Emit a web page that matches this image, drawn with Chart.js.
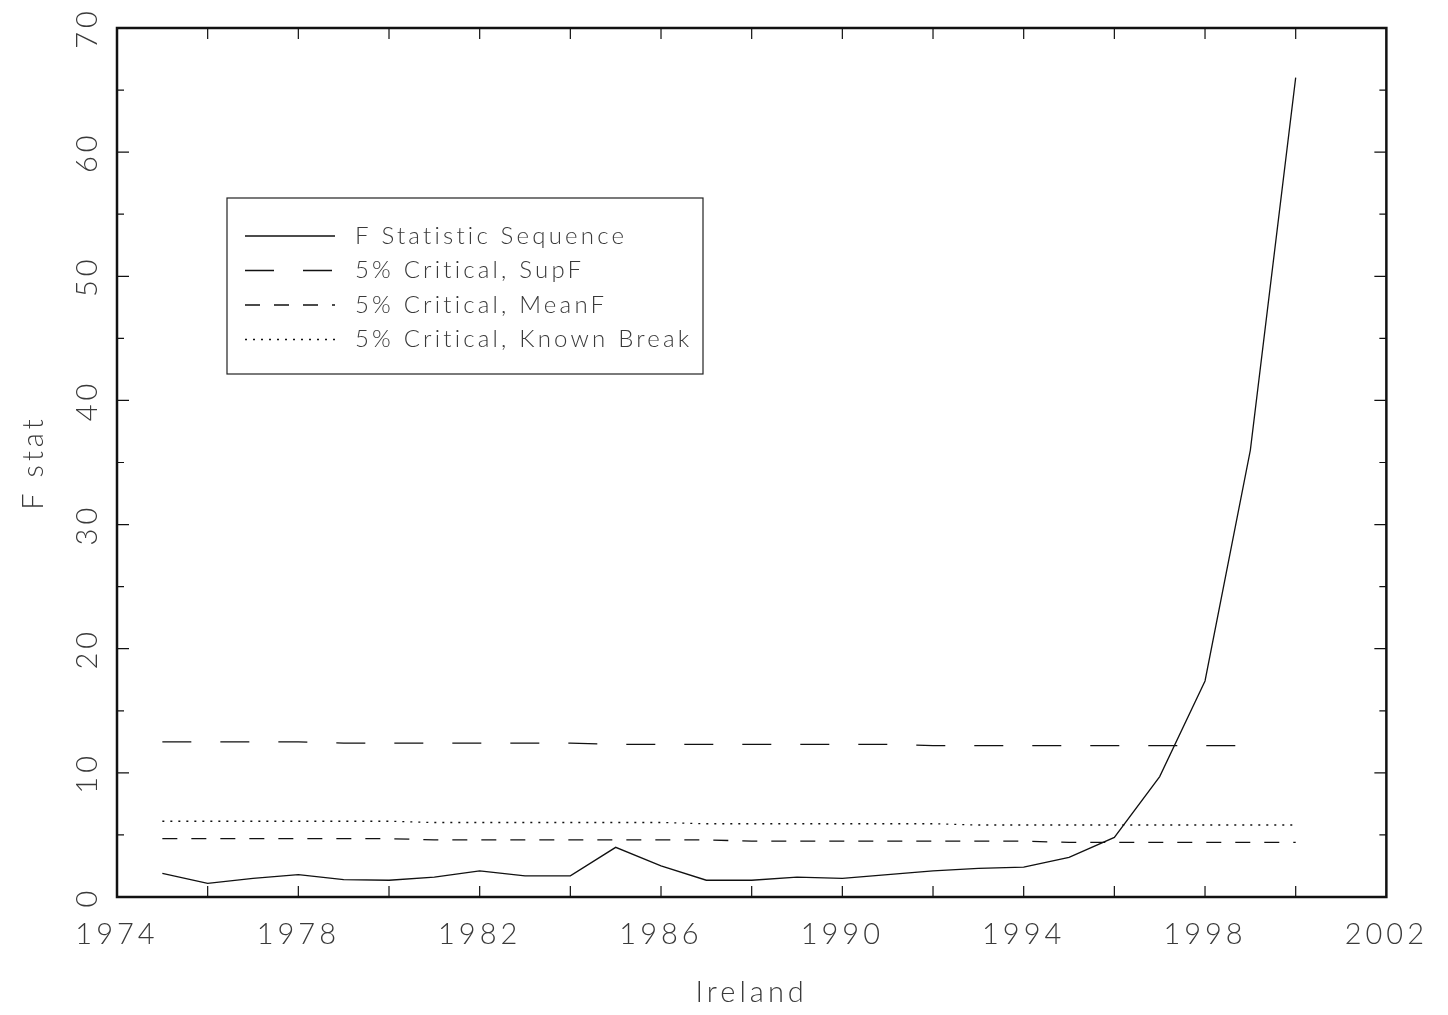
<!DOCTYPE html>
<html>
<head>
<meta charset="utf-8">
<script src="https://cdn.jsdelivr.net/npm/chart.js@4.4.1/dist/chart.umd.min.js"></script>
<style>
  html, body { margin: 0; padding: 0; background: #fff; }
  #chart { display: block; }
</style>
</head>
<body>
<canvas id="chart" width="1448" height="1015"></canvas>
<script>
// years on the x axis
var fYears = [1975, 1976, 1977, 1978, 1979, 1980, 1981, 1982, 1983, 1984, 1985, 1986, 1987,
              1988, 1989, 1990, 1991, 1992, 1993, 1994, 1995, 1996, 1997, 1998, 1999, 2000];
var supYears = [1975, 1976, 1977, 1978, 1979, 1980, 1981, 1982, 1983, 1984, 1985, 1986, 1987,
                1988, 1989, 1990, 1991, 1992, 1993, 1994, 1995, 1996, 1997, 1998, 1999];

// series values
var fStat = [1.9, 1.1, 1.5, 1.8, 1.4, 1.35, 1.6, 2.1, 1.7, 1.7, 4.0, 2.5, 1.35,
             1.35, 1.6, 1.5, 1.8, 2.1, 2.3, 2.4, 3.2, 4.8, 9.7, 17.4, 36, 66];
var supF = [12.5, 12.5, 12.5, 12.5, 12.4, 12.4, 12.4, 12.4, 12.4, 12.4, 12.3, 12.3, 12.3,
            12.3, 12.3, 12.3, 12.3, 12.2, 12.2, 12.2, 12.2, 12.2, 12.2, 12.2, 12.2];
var meanF = [4.7, 4.7, 4.7, 4.7, 4.7, 4.7, 4.6, 4.6, 4.6, 4.6, 4.6, 4.6, 4.6,
             4.5, 4.5, 4.5, 4.5, 4.5, 4.5, 4.5, 4.4, 4.4, 4.4, 4.4, 4.4, 4.4];
var knownBreak = [6.1, 6.1, 6.1, 6.1, 6.1, 6.1, 6.0, 6.0, 6.0, 6.0, 6.0, 6.0, 5.9,
                  5.9, 5.9, 5.9, 5.9, 5.9, 5.8, 5.8, 5.8, 5.8, 5.8, 5.8, 5.8, 5.8];

var seriesLabels = ["F Statistic Sequence", "5% Critical, SupF", "5% Critical, MeanF", "5% Critical, Known Break"];

// axis ticks
var xMin = 1974, xMax = 2002, xStep = 4;
var yMin = 0, yMax = 70, yStep = 10;

var ink = "#111";
var textColor = "#3a3a3a";
var fontFamily = "Lato, 'DejaVu Sans', sans-serif";

function pairs(xs, ys) {
    var out = [];
    for (var i = 0; i < ys.length; i++) out.push({x: xs[i], y: ys[i]});
    return out;
}

function lineSet(label, xs, ys, dash) {
    return {
        label: label,
        data: pairs(xs, ys),
        borderColor: ink,
        borderWidth: 1.3,
        borderDash: dash,
        pointRadius: 0,
        tension: 0,
        fill: false
    };
}

var datasets = [
    lineSet(seriesLabels[0], fYears, fStat, []),
    lineSet(seriesLabels[1], supYears, supF, [29, 29]),
    lineSet(seriesLabels[2], fYears, meanF, [15, 14]),
    lineSet(seriesLabels[3], fYears, knownBreak, [2, 6])
];

// letter spacing to imitate the wide stroke font
var spacingPlugin = {
    id: "spacing",
    beforeUpdate: function(chart) { chart.ctx.letterSpacing = "4px"; },
    beforeDraw: function(chart) { chart.ctx.letterSpacing = "4px"; }
};

// frame and inward ticks on all four sides
var framePlugin = {
    id: "frame",
    afterDatasetsDraw: function(chart) {
        var ctx = chart.ctx, a = chart.chartArea;
        var xs = chart.scales.x, ys = chart.scales.y;
        ctx.save();
        ctx.strokeStyle = ink;
        ctx.lineWidth = 1.2;
        ctx.beginPath();
        for (var yr = xMin + 2; yr < xMax; yr += 2) {
            var px = xs.getPixelForValue(yr);
            ctx.moveTo(px, a.bottom); ctx.lineTo(px, a.bottom - 11);
            ctx.moveTo(px, a.top); ctx.lineTo(px, a.top + 11);
        }
        for (var v = yMin + 5; v < yMax; v += 5) {
            var py = ys.getPixelForValue(v);
            var len = (v % 10 === 0) ? 12 : 7;
            ctx.moveTo(a.left, py); ctx.lineTo(a.left + len, py);
            ctx.moveTo(a.right, py); ctx.lineTo(a.right - len, py);
        }
        ctx.stroke();
        ctx.lineWidth = 2.5;
        ctx.strokeRect(a.left, a.top, a.right - a.left, a.bottom - a.top);
        ctx.restore();
    }
};

// boxed legend inside the plot
var legendPlugin = {
    id: "boxLegend",
    afterDraw: function(chart) {
        var ctx = chart.ctx, a = chart.chartArea;
        var bx = a.left + 110, by = a.top + 170, bw = 476, bh = 176;
        ctx.save();
        ctx.strokeStyle = "#222";
        ctx.lineWidth = 1.2;
        ctx.strokeRect(bx, by, bw, bh);
        ctx.font = "300 24px " + fontFamily;
        ctx.letterSpacing = "3.2px";
        ctx.fillStyle = textColor;
        ctx.textBaseline = "middle";
        chart.data.datasets.forEach(function(ds, i) {
            var ly = by + 38 + i * 34.5;
            ctx.beginPath();
            ctx.setLineDash(ds.borderDash);
            ctx.lineWidth = 1.3;
            ctx.strokeStyle = ink;
            ctx.moveTo(bx + 18, ly);
            ctx.lineTo(bx + 108, ly);
            ctx.stroke();
            ctx.setLineDash([]);
            ctx.fillText(ds.label, bx + 128, ly);
        });
        ctx.restore();
    }
};

var ctx = document.getElementById("chart").getContext("2d");
var chart = new Chart(ctx, {
    type: "line",
    data: { datasets: datasets },
    options: {
        responsive: false,
        animation: false,
        devicePixelRatio: 1,
        layout: { padding: { top: 28, right: 56, left: 0, bottom: 0 } },
        plugins: {
            legend: { display: false },
            tooltip: { enabled: false }
        },
        scales: {
            x: {
                type: "linear",
                min: xMin,
                max: xMax,
                grid: { display: false, drawTicks: false },
                border: { display: false },
                ticks: {
                    stepSize: xStep,
                    padding: 20,
                    color: textColor,
                    font: { family: fontFamily, size: 29, weight: "300" },
                    callback: function(v) { return String(v); },
                    maxRotation: 0
                },
                title: {
                    display: true,
                    text: "Ireland",
                    color: textColor,
                    font: { family: fontFamily, size: 29, weight: "300" },
                    padding: { top: 0, bottom: 5 }
                },
                afterFit: function(scale) { scale.height = 118; }
            },
            y: {
                min: yMin,
                max: yMax,
                grid: { display: false, drawTicks: false },
                border: { display: false },
                ticks: {
                    stepSize: yStep,
                    padding: 9,
                    minRotation: 90,
                    maxRotation: 90,
                    crossAlign: "center",
                    color: textColor,
                    font: { family: fontFamily, size: 29, weight: "300" }
                },
                title: {
                    display: true,
                    text: "F stat",
                    color: textColor,
                    font: { family: fontFamily, size: 29, weight: "300" },
                    padding: { top: 16, bottom: 0 }
                },
                afterFit: function(scale) { scale.width = 117; }
            }
        }
    },
    plugins: [spacingPlugin, framePlugin, legendPlugin]
});
</script>
</body>
</html>
